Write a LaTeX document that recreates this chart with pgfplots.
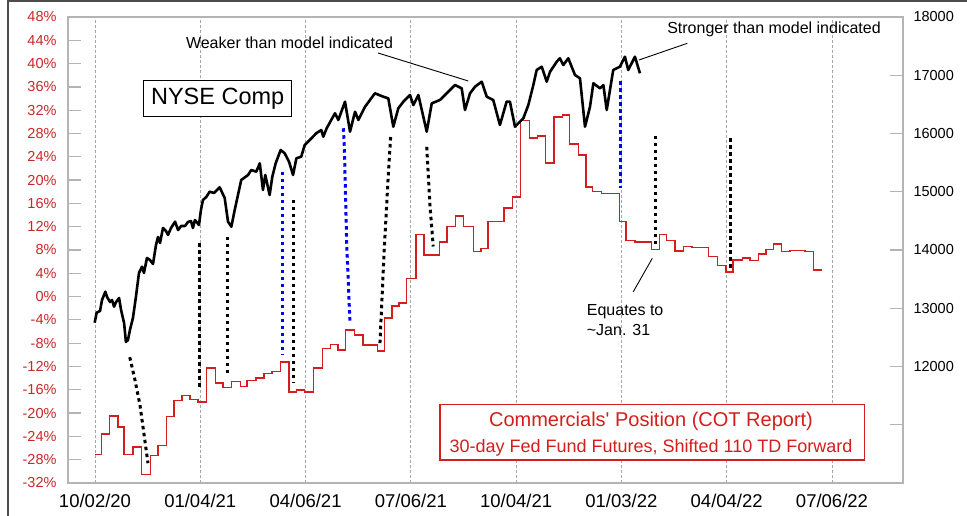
\documentclass[border=0pt]{standalone}
\usepackage{fontspec}
\setmainfont{Liberation Sans}
\usepackage{pgfplots}
\usepackage{pgfplotstable}
\pgfplotsset{compat=1.18}

\definecolor{cotred}{RGB}{212,30,30}
\definecolor{labred}{RGB}{200,40,40}
\definecolor{axgray}{RGB}{180,180,180}

% commercials' position, % (left axis), step series
\pgfplotstableread{
day pct
0 -27.1
3.8 -23.6
8.8 -20.5
13.8 -22.4
17.4 -27.1
22.7 -25.8
27.7 -30.5
33.1 -27.3
37.7 -25.6
42.9 -20.6
47.3 -17.8
52.1 -17.0
56.7 -17.7
61.6 -18.1
66.6 -12.3
72.2 -14.8
76.6 -15.6
81.6 -14.6
87.2 -15.4
91.1 -14.4
96.2 -14.0
101.1 -13.2
105.9 -12.9
111.1 -11.2
116.1 -16.4
120.5 -16.0
125.5 -16.4
130.6 -12.3
136.0 -8.9
141.0 -8.2
145.4 -9.2
150.0 -5.7
155.2 -6.6
160.5 -8.3
168.9 -9.3
173.1 -3.7
177.7 -1.6
181.9 -1.1
186.5 3.1
192.1 10.7
197.0 7.1
206.0 9.4
210.5 12.0
215.8 13.8
220.4 12.0
226.4 7.7
231.0 8.3
235.3 12.9
244.7 15.2
249.7 17.1
254.7 30.2
259.9 27.2
264.7 27.6
269.7 22.9
274.7 30.8
279.6 31.2
283.8 26.2
289.2 24.3
293.8 18.8
297.8 18.0
303.2 17.7
313.9 12.9
317.7 9.6
323.1 9.4
333.1 8.1
337.7 10.7
342.1 9.6
347.1 7.8
352.0 8.6
357.1 8.4
367.0 6.9
372.4 5.3
377.6 4.2
381.9 6.3
387.6 6.6
391.9 6.2
396.9 7.3
401.5 8.1
405.9 9.0
410.9 7.7
415.9 7.9
424.9 7.7
429.8 4.6
434.8 4.6
}\cotdata

% NYSE Composite (right axis)
\pgfplotstableread{
day nyse
-0.2 12752
1.0 12924
3.0 12953
4.2 13142
6.2 13284
7.2 13193
9.0 13107
10.2 13142
11.4 13027
12.6 13107
14.4 13176
15.6 12970
17.4 12747
18.5 12421
19.7 12455
20.9 12627
22.7 12833
24.5 13198
26.3 13605
28.1 13713
29.3 13605
31.1 13863
32.9 13828
34.7 13760
36.5 14086
37.7 14223
38.9 14120
40.7 14378
42.5 14326
43.7 14258
45.5 14378
47.9 14486
49.7 14343
51.5 14412
53.9 14412
55.6 14481
57.4 14498
58.6 14378
59.8 14515
62.2 14429
63.4 14687
64.6 14858
66.6 14910
68.6 15001
71.2 14979
73.0 15030
74.6 15076
77.6 14893
79.6 14486
81.6 14400
83.6 14687
87.5 15202
91.6 15288
93.5 15373
96.5 15344
98.6 15488
100.5 15030
101.9 15288
104.5 14944
106.1 15258
108.1 15488
111.1 15717
113.5 15660
116.1 15516
118.5 15288
120.5 15574
123.4 15602
125.5 15803
128.5 15888
132.4 16004
135.4 16060
136.6 15945
138.6 16089
143.6 16347
145.6 16232
149.6 16546
152.6 16031
155.6 16374
157.6 16232
161.6 16460
167.5 16690
172.5 16632
175.5 16604
178.5 16117
181.5 16433
184.5 16546
188.5 16661
190.5 16489
193.5 16661
198.5 16031
201.5 16518
206.4 16575
211.4 16718
215.4 16833
219.4 16776
221.4 16403
224.4 16690
227.4 16803
231.4 16889
234.4 16632
238.3 16575
242.3 16146
246.3 16546
248.3 16546
251.3 16117
256.3 16261
259.3 16489
262.3 16833
264.3 17090
267.3 17147
270.3 16889
272.3 17061
276.3 17233
278.2 17291
280.2 17176
283.2 17291
287.2 17004
290.2 16948
293.2 16117
296.2 16460
298.2 16862
302.2 16776
304.2 16833
306.2 16403
310.1 17090
314.1 17147
317.1 17318
319.1 17090
323.1 17318
326.1 17033
}\nysedata

\begin{document}
\begin{tikzpicture}
\path[use as bounding box] (0pt,0pt) rectangle (967pt,516pt);
\draw[line width=2pt, black!70] (8.3pt,0pt) -- (8.3pt,515pt) -- (967pt,515pt);

\begin{axis}[
  at={(68pt,33pt)}, anchor=south west,
  width=835pt, height=466pt, scale only axis,
  xmin=-16.16, xmax=483.5, ymin=-32, ymax=48,
  axis line style={axgray, line width=1.6pt},
  xtick={0,63,126,189,252,315,378,441},
  xticklabels={10/02/20,01/04/21,04/06/21,07/06/21,10/04/21,01/03/22,04/04/22,07/06/22},
  xmajorgrids,
  major grid style={black!35, dash pattern=on 3pt off 2pt, line width=0.8pt},
  xtick style={draw=none},
  xticklabel style={font=\fontsize{18.5}{18.5}\selectfont, yshift=-8pt},
  ytick={-32,-28,...,48},
  yticklabels={-32\%,-28\%,-24\%,-20\%,-16\%,-12\%,-8\%,-4\%,0\%,4\%,8\%,12\%,16\%,20\%,24\%,28\%,32\%,36\%,40\%,44\%,48\%},
  ytick pos=left, tick align=inside, major tick length=13pt,
  ytick style={axgray, line width=1.2pt},
  yticklabel style={font=\fontsize{14.5}{14.5}\selectfont, text=labred, xshift=-8pt},
]
\addplot[cotred, line width=1.5pt, const plot] table[x=day, y=pct] {\cotdata};
% dotted connectors
\addplot[black, line width=3pt, dash pattern=on 3.5pt off 3.5pt] coordinates {(20.8,-10.4) (23.9,-14.3) (26.9,-18.6) (31.7,-28.6)};
\addplot[black, line width=3pt, dash pattern=on 3.5pt off 3.5pt] coordinates {(62.8,9.2) (62.8,-15.5)};
\addplot[black, line width=3pt, dash pattern=on 3.5pt off 3.5pt] coordinates {(79.3,10.3) (79.3,-13.5)};
\addplot[blue, line width=3pt, dash pattern=on 3.5pt off 3.5pt] coordinates {(112.1,21.4) (112.1,-9.9)};
\addplot[black, line width=3pt, dash pattern=on 3.5pt off 3.5pt] coordinates {(118.7,16.6) (118.7,-14.8)};
\addplot[blue, line width=3pt, dash pattern=on 3.5pt off 3.5pt] coordinates {(148.6,28.9) (149.2,25.7) (150.6,9.2) (152.6,-4.7)};
\addplot[black, line width=3pt, dash pattern=on 3.5pt off 3.5pt] coordinates {(176.9,27.4) (175.5,20.9) (172.9,7.1) (171.6,-1.2) (170.5,-8.0)};
\addplot[black, line width=3pt, dash pattern=on 3.5pt off 3.5pt] coordinates {(198.5,25.7) (200.5,15.4) (202.4,8.6)};
\addplot[blue, line width=3pt, dash pattern=on 3.5pt off 3.5pt] coordinates {(314.4,37.0) (314.4,18.6)};
\addplot[black, line width=3pt, dash pattern=on 3.5pt off 3.5pt] coordinates {(335.5,27.6) (335.5,8.9)};
\addplot[black, line width=3pt, dash pattern=on 3.5pt off 3.5pt] coordinates {(380.3,27.2) (380.3,4.6)};
\end{axis}

\begin{axis}[
  at={(68pt,33pt)}, anchor=south west,
  width=835pt, height=466pt, scale only axis,
  xmin=-16.16, xmax=483.5, ymin=10000, ymax=18000,
  axis x line=none, axis y line*=right,
  axis line style={axgray, line width=1.6pt},
  scaled y ticks=false,
  ytick={11000,12000,...,18000},
  yticklabels={{},12000,13000,14000,15000,16000,17000,18000},
  tick align=inside, major tick length=13pt,
  ytick style={axgray, line width=1.2pt},
  yticklabel style={font=\fontsize{14.5}{14.5}\selectfont, xshift=7pt},
]
\addplot[black, line width=2.6pt, line join=round] table[x=day, y=nyse] {\nysedata};
\end{axis}

% annotations
\node[font=\fontsize{16}{16}\selectfont] at (289.5pt,473pt) {Weaker than model indicated};
\draw[line width=0.9pt] (378pt,463pt) -- (468.3pt,435pt);
\node[font=\fontsize{16}{16}\selectfont] at (774pt,487pt) {Stronger than model indicated};
\draw[line width=0.9pt] (687.3pt,472.7pt) -- (639pt,456pt);
\node[draw=black, fill=white, line width=1.2pt, minimum width=148pt, minimum height=35.6pt,
      font=\fontsize{23.5}{23.5}\selectfont] at (217.7pt,417.5pt) {NYSE Comp};
\node[anchor=west, align=left, inner sep=0pt, font=\fontsize{16}{20}\selectfont] at (586.7pt,196pt) {Equates to\\\textasciitilde Jan. 31};
\draw[line width=0.9pt] (633.3pt,224.3pt) -- (652.3pt,257.7pt);
\draw[cotred, line width=1.3pt, fill=white] (440pt,56pt) rectangle (864.3pt,111.7pt);
\node[text=cotred, font=\fontsize{20}{20}\selectfont] at (651pt,94.3pt) {Commercials\textquotesingle\ Position (COT Report)};
\node[text=cotred, font=\fontsize{18}{18}\selectfont] at (651pt,68.3pt) {30-day Fed Fund Futures, Shifted 110 TD Forward};
\end{tikzpicture}
\end{document}
